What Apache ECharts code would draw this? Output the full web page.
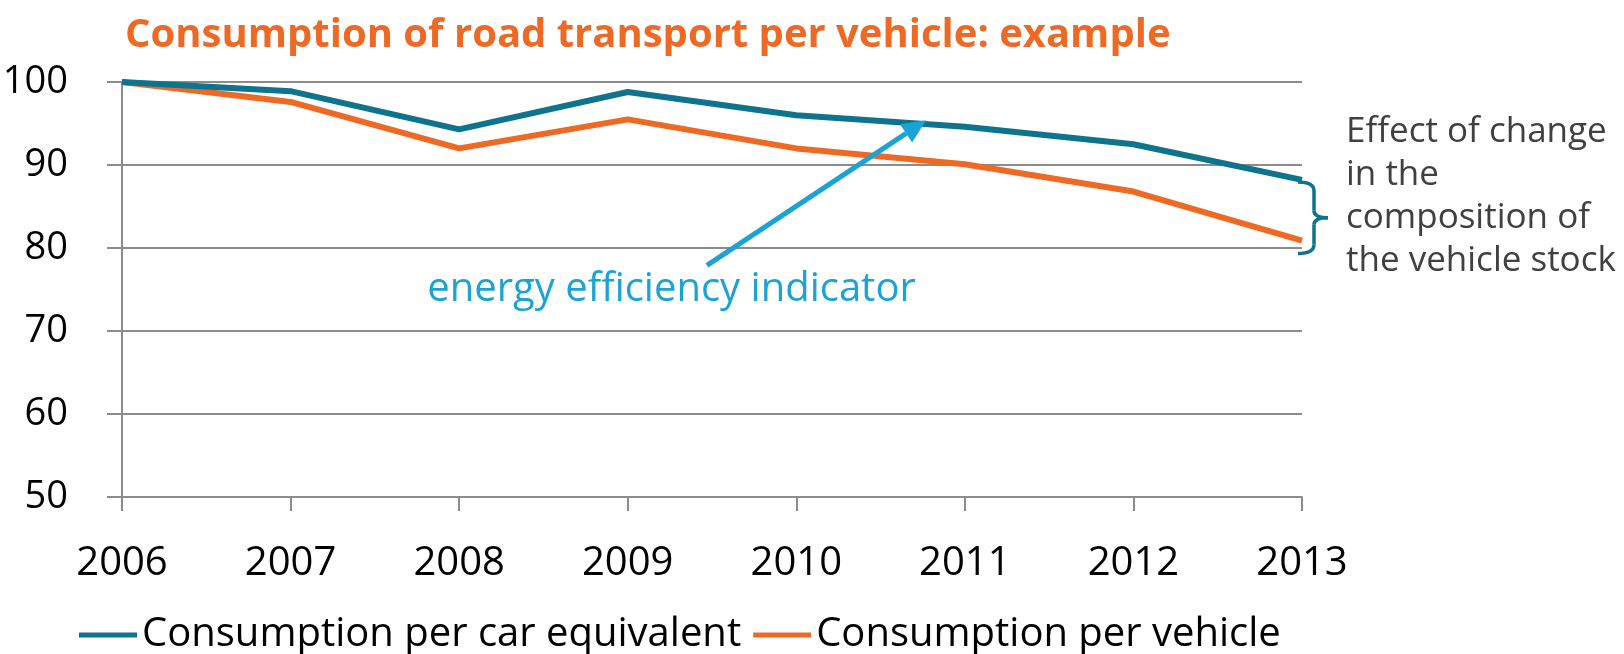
<!DOCTYPE html>
<html>
<head>
<meta charset="utf-8">
<script src="https://cdn.jsdelivr.net/npm/echarts@6/dist/echarts.min.js"></script>
<style>
  html, body { margin: 0; padding: 0; background: #fff; }
  #chart { width: 1624px; height: 654px; }
</style>
</head>
<body>
<div id="chart"></div>
<script>
// years on the x axis
const years = ['2006', '2007', '2008', '2009', '2010', '2011', '2012', '2013'];
// index 2006 = 100
const perCarEquivalent = [100, 98.9, 94.3, 98.8, 96.0, 94.6, 92.5, 88.2];
const perVehicle = [100, 97.6, 92.0, 95.5, 92.0, 90.1, 86.8, 80.9];

const TEAL = '#0E738C';
const ORANGE = '#EE6A24';
const ARROW_BLUE = '#1CA3D6';
const FONT = '"Open Sans", "Noto Sans", sans-serif';

const chart = echarts.init(document.getElementById('chart'));

const option = {
  animation: false,
  backgroundColor: '#fff',
  title: {
    text: 'Consumption of road transport per vehicle: example',
    left: 120,
    top: 11,
    textStyle: { color: ORANGE, fontSize: 40, fontWeight: 'bold', fontFamily: FONT }
  },
  grid: { left: 122, right: 322, top: 82, bottom: 157, outerBoundsMode: 'none' },
  legend: {
    left: 74,
    bottom: -6,
    itemGap: 12,
    itemWidth: 58,
    itemHeight: 5,
    icon: 'rect',
    textStyle: { color: '#000', fontSize: 40, fontFamily: FONT },
    data: ['Consumption per car equivalent', 'Consumption per vehicle']
  },
  xAxis: {
    type: 'category',
    data: years,
    boundaryGap: false,
    axisLine: { lineStyle: { color: '#8C8C8C', width: 2 } },
    axisTick: { show: true, length: 14, alignWithLabel: true, lineStyle: { color: '#8C8C8C', width: 2 } },
    axisLabel: { color: '#000', fontSize: 40, fontFamily: FONT, margin: 47 }
  },
  yAxis: {
    type: 'value',
    min: 50,
    max: 100,
    interval: 10,
    axisLine: { show: true, lineStyle: { color: '#8C8C8C', width: 2 } },
    axisTick: { show: true, length: 15, lineStyle: { color: '#8C8C8C', width: 2 } },
    splitLine: { lineStyle: { color: '#8C8C8C', width: 2 } },
    axisLabel: { color: '#000', fontSize: 38, fontFamily: FONT, margin: 54 }
  },
  series: [
    {
      name: 'Consumption per car equivalent',
      type: 'line',
      data: perCarEquivalent,
      symbol: 'none',
      itemStyle: { color: TEAL },
      lineStyle: { color: TEAL, width: 6 },
      z: 3
    },
    {
      name: 'Consumption per vehicle',
      type: 'line',
      data: perVehicle,
      symbol: 'none',
      itemStyle: { color: ORANGE },
      lineStyle: { color: ORANGE, width: 6 },
      z: 2
    }
  ]
};

chart.setOption(option);

// annotations: fractional category positions interpolated between first and last year
const first = chart.convertToPixel({ gridIndex: 0 }, [0, 50]);
const last = chart.convertToPixel({ gridIndex: 0 }, [years.length - 1, 100]);
const px = (i, v) => [
  first[0] + (last[0] - first[0]) * i / (years.length - 1),
  first[1] + (last[1] - first[1]) * (v - 50) / 50
];

const tail = px(3.47, 77.9);
const head = px(4.77, 95.4);
const ang = Math.atan2(head[1] - tail[1], head[0] - tail[0]);
const hl = 24, hw = 11;
const base = [head[0] - hl * Math.cos(ang), head[1] - hl * Math.sin(ang)];
const left = [base[0] + hw * Math.sin(ang), base[1] - hw * Math.cos(ang)];
const right = [base[0] - hw * Math.sin(ang), base[1] + hw * Math.cos(ang)];

const labelPos = px(3.26, 75.0);

// curly brace between the two series ends
const endTop = px(7, perCarEquivalent[7]);
const endBot = px(7, perVehicle[7]);
const x0 = endTop[0] - 4, xv = x0 + 16, xp = x0 + 30;
const yT = endTop[1] + 2, yB = endBot[1] + 13, yM = (yT + yB) / 2;
const braceStyle = { stroke: TEAL, lineWidth: 3.5, fill: null };
const curve = (x1, y1, cx, cy, x2, y2) => ({
  type: 'bezierCurve',
  shape: { x1: x1, y1: y1, cpx1: cx, cpy1: cy, x2: x2, y2: y2 },
  style: braceStyle,
  z: 10
});
const seg = (x1, y1, x2, y2) => ({
  type: 'line',
  shape: { x1: x1, y1: y1, x2: x2, y2: y2 },
  style: braceStyle,
  z: 10
});

chart.setOption({
  graphic: [
    {
      type: 'line',
      shape: { x1: tail[0], y1: tail[1], x2: base[0], y2: base[1] },
      style: { stroke: ARROW_BLUE, lineWidth: 5 },
      z: 10
    },
    {
      type: 'polygon',
      shape: { points: [head, left, right] },
      style: { fill: ARROW_BLUE },
      z: 10
    },
    {
      type: 'text',
      x: labelPos[0],
      y: labelPos[1],
      style: {
        text: 'energy efficiency indicator',
        fill: ARROW_BLUE,
        font: '40px ' + FONT,
        textAlign: 'center',
        textVerticalAlign: 'middle'
      },
      z: 10
    },
    curve(x0, yT, xv, yT, xv, yT + 9),
    seg(xv, yT + 9, xv, yM - 7),
    curve(xv, yM - 7, xv, yM, xp, yM),
    curve(xp, yM, xv, yM, xv, yM + 7),
    seg(xv, yM + 7, xv, yB - 9),
    curve(xv, yB - 9, xv, yB, x0, yB),
    {
      type: 'text',
      x: 1346,
      y: 111,
      style: {
        text: 'Effect of change\nin the\ncomposition of\nthe vehicle stock',
        fill: '#404040',
        font: '35px ' + FONT,
        lineHeight: 43
      },
      z: 10
    }
  ]
});
</script>
</body>
</html>
